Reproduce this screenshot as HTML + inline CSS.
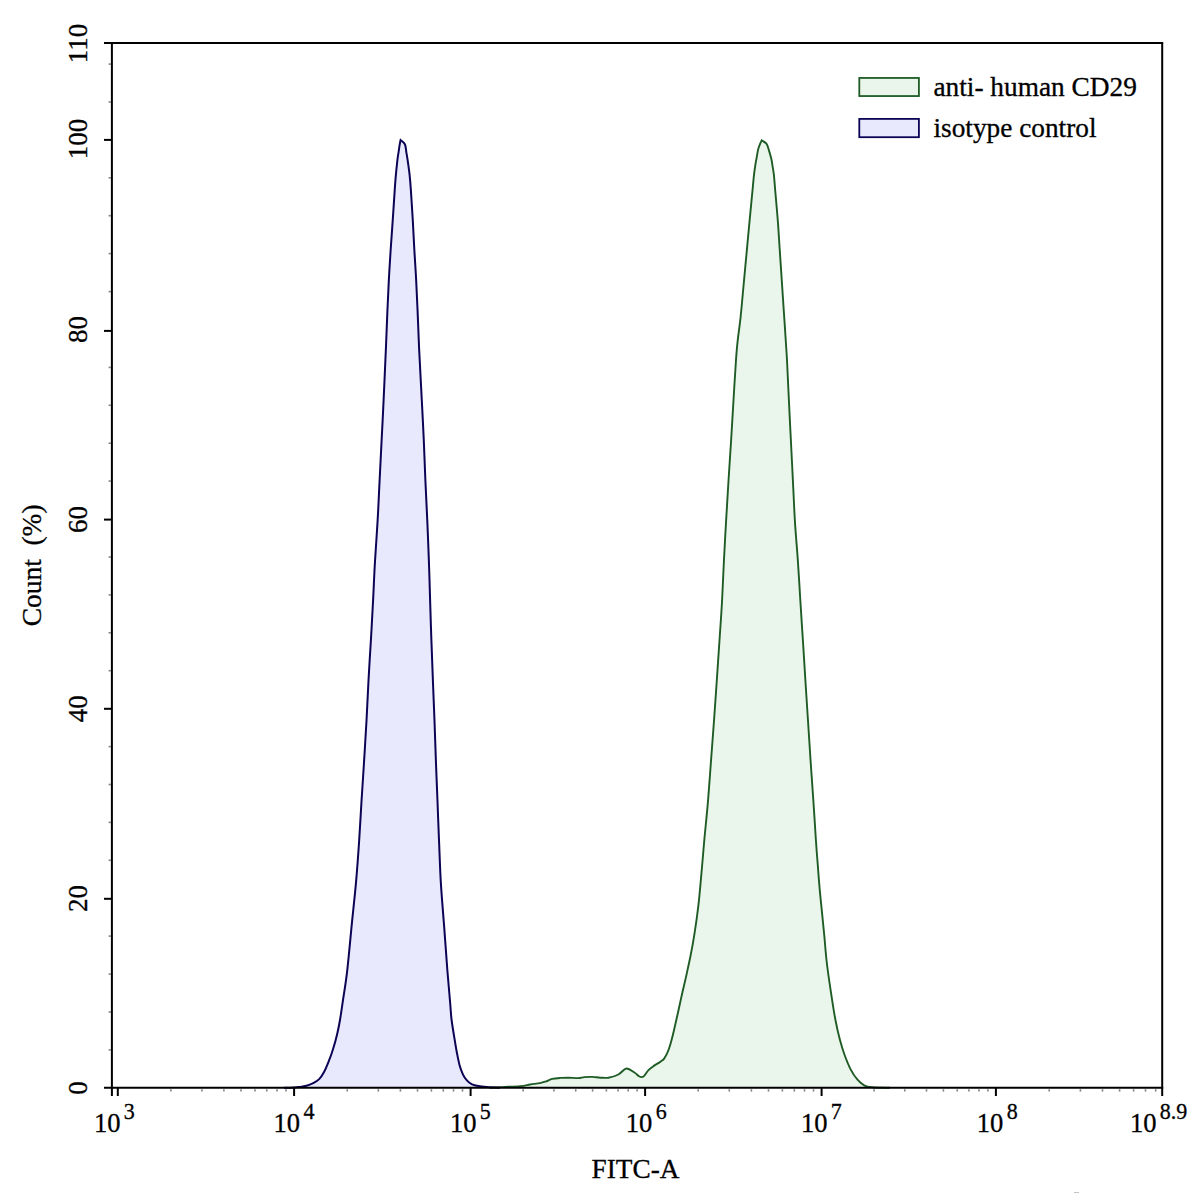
<!DOCTYPE html>
<html><head><meta charset="utf-8"><title>Flow cytometry histogram</title>
<style>html,body{margin:0;padding:0;background:#fff;}svg{display:block}</style></head>
<body>
<svg width="1197" height="1193" viewBox="0 0 1197 1193">
<rect width="1197" height="1193" fill="#fff"/>
<path d="M490.0 1087.8C492.0 1087.7 497.1 1087.4 502.1 1087.1C507.1 1086.8 515.5 1086.5 520.2 1086.1C524.9 1085.7 526.9 1085.0 530.2 1084.5C533.5 1084.0 537.5 1083.6 540.2 1083.1C542.9 1082.6 544.2 1082.0 546.2 1081.3C548.2 1080.6 549.9 1079.5 552.2 1078.9C554.6 1078.3 557.6 1078.1 560.3 1077.9C563.0 1077.7 565.3 1077.7 568.3 1077.7C571.3 1077.7 575.6 1078.2 578.3 1078.1C581.0 1078.0 582.0 1077.3 584.3 1077.1C586.6 1076.9 589.6 1076.8 592.3 1076.9C595.0 1077.0 597.7 1077.6 600.4 1077.7C603.1 1077.8 605.4 1078.2 608.4 1077.7C611.4 1077.2 615.4 1076.0 618.4 1074.5C621.4 1073.0 623.7 1068.8 626.4 1068.5C629.1 1068.2 632.2 1071.2 634.4 1072.5C636.6 1073.8 637.9 1075.8 639.4 1076.5C640.9 1077.2 642.0 1077.6 643.5 1076.5C645.0 1075.4 646.8 1071.8 648.5 1070.1C650.2 1068.4 651.5 1067.5 653.5 1066.1C655.5 1064.7 658.7 1063.0 660.5 1061.7C662.3 1060.4 663.2 1060.0 664.5 1058.1C665.8 1056.1 667.1 1053.7 668.5 1050.0C669.9 1046.3 671.2 1041.6 672.6 1036.0C674.0 1030.4 675.6 1023.0 677.1 1016.5C678.6 1010.0 679.9 1003.8 681.4 996.9C682.9 990.0 684.9 982.0 686.4 975.1C687.9 968.2 689.2 962.4 690.6 955.5C692.0 948.6 693.2 942.1 694.5 933.7C695.8 925.4 697.2 915.6 698.4 905.4C699.6 895.2 700.5 883.6 701.5 872.7C702.5 861.8 703.2 851.9 704.3 840.0C705.4 828.1 706.9 814.4 708.0 801.2C709.1 788.0 710.0 774.3 711.0 760.9C712.0 747.5 713.0 734.1 714.0 720.7C715.0 707.3 715.9 693.9 716.8 680.5C717.7 667.1 718.6 653.6 719.5 640.2C720.4 626.8 721.4 613.2 722.1 600.0C722.8 586.8 723.2 574.4 723.9 561.2C724.6 548.0 725.3 534.3 726.1 520.9C726.9 507.5 727.7 494.1 728.5 480.7C729.3 467.3 730.3 453.9 731.1 440.5C731.9 427.1 732.7 413.6 733.5 400.2C734.3 386.8 735.3 369.8 736.0 360.0C736.7 350.2 736.8 348.4 737.6 341.3C738.4 334.2 739.6 326.5 740.6 317.1C741.6 307.7 742.6 295.7 743.6 285.0C744.6 274.3 745.6 263.5 746.6 252.8C747.6 242.1 748.6 231.3 749.6 220.6C750.6 209.9 752.0 196.0 752.7 188.4C753.4 180.8 753.5 179.0 754.0 174.9C754.5 170.8 755.1 166.8 755.5 164.0C755.9 161.2 756.2 160.3 756.6 157.9C757.0 155.5 757.5 152.1 758.1 149.6C758.7 147.1 759.8 144.7 760.4 143.2C761.0 141.7 761.5 140.9 761.7 140.4C762.5 140.9 765.2 142.1 766.4 143.6C767.6 145.1 767.9 147.1 768.7 149.6C769.5 152.1 770.6 155.7 771.3 158.7C772.0 161.7 772.4 165.0 772.8 167.7C773.2 170.4 773.5 171.1 773.9 174.9C774.3 178.7 774.6 182.8 775.2 190.4C775.9 198.0 777.0 210.5 777.8 220.6C778.6 230.7 779.1 240.8 779.8 250.8C780.5 260.9 781.1 270.8 781.8 280.9C782.5 290.9 783.1 301.0 783.8 311.1C784.5 321.2 785.3 333.2 785.8 341.3C786.3 349.4 786.5 350.2 787.0 360.0C787.5 369.8 788.2 386.8 788.9 400.2C789.5 413.6 790.2 427.1 790.9 440.5C791.6 453.9 792.2 467.3 792.9 480.7C793.6 494.1 794.1 507.5 794.9 520.9C795.7 534.3 797.0 548.0 797.9 561.2C798.8 574.4 799.5 586.8 800.3 600.0C801.1 613.2 802.0 626.8 802.9 640.2C803.8 653.6 804.5 667.1 805.4 680.5C806.2 693.9 807.1 707.3 808.0 720.7C808.9 734.1 809.7 747.5 810.6 760.9C811.5 774.3 812.5 788.0 813.4 801.2C814.3 814.4 815.2 829.3 815.9 840.0C816.6 850.7 817.1 856.8 817.8 865.2C818.4 873.6 819.1 882.8 819.8 890.3C820.5 897.8 821.0 902.8 821.8 910.4C822.5 918.0 823.5 927.3 824.3 935.6C825.1 943.9 825.5 951.0 826.5 960.0C827.5 969.0 829.0 979.5 830.5 989.3C832.0 999.1 833.6 1010.3 835.2 1018.7C836.8 1027.1 838.3 1033.8 839.9 1039.8C841.5 1045.8 842.8 1050.1 844.6 1055.0C846.4 1059.9 848.4 1065.0 850.5 1069.1C852.6 1073.2 855.1 1077.0 857.5 1079.7C859.9 1082.5 862.1 1084.3 864.6 1085.6C867.1 1086.9 868.6 1086.9 872.8 1087.3C877.0 1087.7 887.1 1087.7 890.0 1087.8Z" fill="#eaf6eb" stroke="none"/>
<path d="M490.0 1087.8C492.0 1087.7 497.1 1087.4 502.1 1087.1C507.1 1086.8 515.5 1086.5 520.2 1086.1C524.9 1085.7 526.9 1085.0 530.2 1084.5C533.5 1084.0 537.5 1083.6 540.2 1083.1C542.9 1082.6 544.2 1082.0 546.2 1081.3C548.2 1080.6 549.9 1079.5 552.2 1078.9C554.6 1078.3 557.6 1078.1 560.3 1077.9C563.0 1077.7 565.3 1077.7 568.3 1077.7C571.3 1077.7 575.6 1078.2 578.3 1078.1C581.0 1078.0 582.0 1077.3 584.3 1077.1C586.6 1076.9 589.6 1076.8 592.3 1076.9C595.0 1077.0 597.7 1077.6 600.4 1077.7C603.1 1077.8 605.4 1078.2 608.4 1077.7C611.4 1077.2 615.4 1076.0 618.4 1074.5C621.4 1073.0 623.7 1068.8 626.4 1068.5C629.1 1068.2 632.2 1071.2 634.4 1072.5C636.6 1073.8 637.9 1075.8 639.4 1076.5C640.9 1077.2 642.0 1077.6 643.5 1076.5C645.0 1075.4 646.8 1071.8 648.5 1070.1C650.2 1068.4 651.5 1067.5 653.5 1066.1C655.5 1064.7 658.7 1063.0 660.5 1061.7C662.3 1060.4 663.2 1060.0 664.5 1058.1C665.8 1056.1 667.1 1053.7 668.5 1050.0C669.9 1046.3 671.2 1041.6 672.6 1036.0C674.0 1030.4 675.6 1023.0 677.1 1016.5C678.6 1010.0 679.9 1003.8 681.4 996.9C682.9 990.0 684.9 982.0 686.4 975.1C687.9 968.2 689.2 962.4 690.6 955.5C692.0 948.6 693.2 942.1 694.5 933.7C695.8 925.4 697.2 915.6 698.4 905.4C699.6 895.2 700.5 883.6 701.5 872.7C702.5 861.8 703.2 851.9 704.3 840.0C705.4 828.1 706.9 814.4 708.0 801.2C709.1 788.0 710.0 774.3 711.0 760.9C712.0 747.5 713.0 734.1 714.0 720.7C715.0 707.3 715.9 693.9 716.8 680.5C717.7 667.1 718.6 653.6 719.5 640.2C720.4 626.8 721.4 613.2 722.1 600.0C722.8 586.8 723.2 574.4 723.9 561.2C724.6 548.0 725.3 534.3 726.1 520.9C726.9 507.5 727.7 494.1 728.5 480.7C729.3 467.3 730.3 453.9 731.1 440.5C731.9 427.1 732.7 413.6 733.5 400.2C734.3 386.8 735.3 369.8 736.0 360.0C736.7 350.2 736.8 348.4 737.6 341.3C738.4 334.2 739.6 326.5 740.6 317.1C741.6 307.7 742.6 295.7 743.6 285.0C744.6 274.3 745.6 263.5 746.6 252.8C747.6 242.1 748.6 231.3 749.6 220.6C750.6 209.9 752.0 196.0 752.7 188.4C753.4 180.8 753.5 179.0 754.0 174.9C754.5 170.8 755.1 166.8 755.5 164.0C755.9 161.2 756.2 160.3 756.6 157.9C757.0 155.5 757.5 152.1 758.1 149.6C758.7 147.1 759.8 144.7 760.4 143.2C761.0 141.7 761.5 140.9 761.7 140.4C762.5 140.9 765.2 142.1 766.4 143.6C767.6 145.1 767.9 147.1 768.7 149.6C769.5 152.1 770.6 155.7 771.3 158.7C772.0 161.7 772.4 165.0 772.8 167.7C773.2 170.4 773.5 171.1 773.9 174.9C774.3 178.7 774.6 182.8 775.2 190.4C775.9 198.0 777.0 210.5 777.8 220.6C778.6 230.7 779.1 240.8 779.8 250.8C780.5 260.9 781.1 270.8 781.8 280.9C782.5 290.9 783.1 301.0 783.8 311.1C784.5 321.2 785.3 333.2 785.8 341.3C786.3 349.4 786.5 350.2 787.0 360.0C787.5 369.8 788.2 386.8 788.9 400.2C789.5 413.6 790.2 427.1 790.9 440.5C791.6 453.9 792.2 467.3 792.9 480.7C793.6 494.1 794.1 507.5 794.9 520.9C795.7 534.3 797.0 548.0 797.9 561.2C798.8 574.4 799.5 586.8 800.3 600.0C801.1 613.2 802.0 626.8 802.9 640.2C803.8 653.6 804.5 667.1 805.4 680.5C806.2 693.9 807.1 707.3 808.0 720.7C808.9 734.1 809.7 747.5 810.6 760.9C811.5 774.3 812.5 788.0 813.4 801.2C814.3 814.4 815.2 829.3 815.9 840.0C816.6 850.7 817.1 856.8 817.8 865.2C818.4 873.6 819.1 882.8 819.8 890.3C820.5 897.8 821.0 902.8 821.8 910.4C822.5 918.0 823.5 927.3 824.3 935.6C825.1 943.9 825.5 951.0 826.5 960.0C827.5 969.0 829.0 979.5 830.5 989.3C832.0 999.1 833.6 1010.3 835.2 1018.7C836.8 1027.1 838.3 1033.8 839.9 1039.8C841.5 1045.8 842.8 1050.1 844.6 1055.0C846.4 1059.9 848.4 1065.0 850.5 1069.1C852.6 1073.2 855.1 1077.0 857.5 1079.7C859.9 1082.5 862.1 1084.3 864.6 1085.6C867.1 1086.9 868.6 1086.9 872.8 1087.3C877.0 1087.7 887.1 1087.7 890.0 1087.8" fill="none" stroke="#1f5c25" stroke-width="1.9" stroke-linejoin="miter"/>
<path d="M284.0 1087.8C285.6 1087.8 291.3 1087.6 293.7 1087.5C296.1 1087.4 296.3 1087.4 298.4 1087.1C300.5 1086.8 304.0 1086.5 306.5 1085.8C309.0 1085.1 311.1 1084.2 313.2 1083.1C315.3 1082.0 317.4 1080.9 319.2 1079.1C321.0 1077.3 322.3 1075.2 323.9 1072.3C325.5 1069.4 327.0 1065.6 328.6 1061.6C330.2 1057.6 331.9 1052.9 333.3 1048.2C334.8 1043.5 336.2 1038.1 337.3 1033.4C338.4 1028.7 339.1 1025.3 340.0 1020.0C340.9 1014.6 341.6 1009.5 342.8 1001.3C344.0 993.1 345.8 983.1 347.2 970.8C348.6 958.4 350.1 941.7 351.5 927.2C352.9 912.7 354.6 898.1 355.9 883.6C357.2 869.1 358.3 853.7 359.2 840.0C360.1 826.3 360.7 814.4 361.5 801.2C362.3 788.0 363.3 774.3 364.1 760.9C364.9 747.5 365.8 734.1 366.5 720.7C367.2 707.3 367.8 693.9 368.5 680.5C369.2 667.1 370.1 653.6 370.9 640.2C371.7 626.8 372.4 613.2 373.1 600.0C373.8 586.8 374.2 574.4 375.0 561.2C375.8 548.0 376.8 534.3 377.6 520.9C378.4 507.5 378.9 494.1 379.6 480.7C380.3 467.3 380.9 453.9 381.6 440.5C382.3 427.1 383.0 413.6 383.6 400.2C384.2 386.8 385.0 369.8 385.4 360.0C385.8 350.2 385.9 349.4 386.2 341.3C386.5 333.2 387.0 321.2 387.4 311.1C387.8 301.0 388.3 290.9 388.8 280.9C389.3 270.8 390.0 260.9 390.6 250.8C391.2 240.8 392.0 230.7 392.7 220.6C393.4 210.5 394.2 198.0 394.7 190.4C395.2 182.8 395.4 179.9 395.9 174.9C396.3 169.9 397.0 163.9 397.4 160.2C397.8 156.5 398.1 155.1 398.5 152.6C398.9 150.1 399.2 147.2 399.6 145.1C400.0 143.0 400.4 140.9 400.6 140.1C401.3 140.8 403.9 142.1 404.9 144.2C405.9 146.3 405.9 149.6 406.4 152.6C406.9 155.6 407.4 158.3 407.9 162.0C408.4 165.7 409.1 170.2 409.6 174.9C410.1 179.6 410.4 182.8 410.9 190.4C411.4 198.0 412.2 210.5 412.8 220.6C413.4 230.7 413.8 240.8 414.4 250.8C415.0 260.9 415.7 270.8 416.2 280.9C416.7 290.9 417.2 301.0 417.6 311.1C418.0 321.2 418.5 333.2 418.8 341.3C419.1 349.4 419.2 350.2 419.7 360.0C420.2 369.8 421.1 386.8 421.8 400.2C422.5 413.6 423.2 427.1 423.8 440.5C424.4 453.9 424.8 467.3 425.4 480.7C426.0 494.1 426.7 507.5 427.3 520.9C427.9 534.3 428.4 548.0 428.9 561.2C429.4 574.4 429.7 586.8 430.1 600.0C430.5 613.2 430.9 626.8 431.4 640.2C431.9 653.6 432.4 667.1 432.9 680.5C433.4 693.9 434.0 707.3 434.5 720.7C435.0 734.1 435.4 747.5 435.9 760.9C436.4 774.3 437.0 788.0 437.5 801.2C438.0 814.4 438.4 826.3 439.0 840.0C439.6 853.7 440.0 869.1 440.9 883.6C441.8 898.1 443.1 912.7 444.2 927.2C445.3 941.7 446.4 958.1 447.4 970.8C448.4 983.5 449.5 995.3 450.2 1003.5C450.9 1011.7 450.9 1014.5 451.6 1020.0C452.3 1025.5 453.3 1031.4 454.2 1036.8C455.1 1042.2 455.9 1047.5 456.8 1052.2C457.7 1056.9 458.5 1061.2 459.5 1064.9C460.5 1068.6 461.7 1071.7 462.9 1074.3C464.1 1076.9 465.4 1078.8 466.9 1080.4C468.3 1082.0 469.7 1083.1 471.6 1084.1C473.5 1085.0 475.7 1085.6 478.3 1086.1C480.9 1086.6 483.4 1086.8 487.0 1087.1C490.6 1087.4 497.8 1087.7 500.0 1087.8Z" fill="#e9e9fd" stroke="none"/>
<path d="M284.0 1087.8C285.6 1087.8 291.3 1087.6 293.7 1087.5C296.1 1087.4 296.3 1087.4 298.4 1087.1C300.5 1086.8 304.0 1086.5 306.5 1085.8C309.0 1085.1 311.1 1084.2 313.2 1083.1C315.3 1082.0 317.4 1080.9 319.2 1079.1C321.0 1077.3 322.3 1075.2 323.9 1072.3C325.5 1069.4 327.0 1065.6 328.6 1061.6C330.2 1057.6 331.9 1052.9 333.3 1048.2C334.8 1043.5 336.2 1038.1 337.3 1033.4C338.4 1028.7 339.1 1025.3 340.0 1020.0C340.9 1014.6 341.6 1009.5 342.8 1001.3C344.0 993.1 345.8 983.1 347.2 970.8C348.6 958.4 350.1 941.7 351.5 927.2C352.9 912.7 354.6 898.1 355.9 883.6C357.2 869.1 358.3 853.7 359.2 840.0C360.1 826.3 360.7 814.4 361.5 801.2C362.3 788.0 363.3 774.3 364.1 760.9C364.9 747.5 365.8 734.1 366.5 720.7C367.2 707.3 367.8 693.9 368.5 680.5C369.2 667.1 370.1 653.6 370.9 640.2C371.7 626.8 372.4 613.2 373.1 600.0C373.8 586.8 374.2 574.4 375.0 561.2C375.8 548.0 376.8 534.3 377.6 520.9C378.4 507.5 378.9 494.1 379.6 480.7C380.3 467.3 380.9 453.9 381.6 440.5C382.3 427.1 383.0 413.6 383.6 400.2C384.2 386.8 385.0 369.8 385.4 360.0C385.8 350.2 385.9 349.4 386.2 341.3C386.5 333.2 387.0 321.2 387.4 311.1C387.8 301.0 388.3 290.9 388.8 280.9C389.3 270.8 390.0 260.9 390.6 250.8C391.2 240.8 392.0 230.7 392.7 220.6C393.4 210.5 394.2 198.0 394.7 190.4C395.2 182.8 395.4 179.9 395.9 174.9C396.3 169.9 397.0 163.9 397.4 160.2C397.8 156.5 398.1 155.1 398.5 152.6C398.9 150.1 399.2 147.2 399.6 145.1C400.0 143.0 400.4 140.9 400.6 140.1C401.3 140.8 403.9 142.1 404.9 144.2C405.9 146.3 405.9 149.6 406.4 152.6C406.9 155.6 407.4 158.3 407.9 162.0C408.4 165.7 409.1 170.2 409.6 174.9C410.1 179.6 410.4 182.8 410.9 190.4C411.4 198.0 412.2 210.5 412.8 220.6C413.4 230.7 413.8 240.8 414.4 250.8C415.0 260.9 415.7 270.8 416.2 280.9C416.7 290.9 417.2 301.0 417.6 311.1C418.0 321.2 418.5 333.2 418.8 341.3C419.1 349.4 419.2 350.2 419.7 360.0C420.2 369.8 421.1 386.8 421.8 400.2C422.5 413.6 423.2 427.1 423.8 440.5C424.4 453.9 424.8 467.3 425.4 480.7C426.0 494.1 426.7 507.5 427.3 520.9C427.9 534.3 428.4 548.0 428.9 561.2C429.4 574.4 429.7 586.8 430.1 600.0C430.5 613.2 430.9 626.8 431.4 640.2C431.9 653.6 432.4 667.1 432.9 680.5C433.4 693.9 434.0 707.3 434.5 720.7C435.0 734.1 435.4 747.5 435.9 760.9C436.4 774.3 437.0 788.0 437.5 801.2C438.0 814.4 438.4 826.3 439.0 840.0C439.6 853.7 440.0 869.1 440.9 883.6C441.8 898.1 443.1 912.7 444.2 927.2C445.3 941.7 446.4 958.1 447.4 970.8C448.4 983.5 449.5 995.3 450.2 1003.5C450.9 1011.7 450.9 1014.5 451.6 1020.0C452.3 1025.5 453.3 1031.4 454.2 1036.8C455.1 1042.2 455.9 1047.5 456.8 1052.2C457.7 1056.9 458.5 1061.2 459.5 1064.9C460.5 1068.6 461.7 1071.7 462.9 1074.3C464.1 1076.9 465.4 1078.8 466.9 1080.4C468.3 1082.0 469.7 1083.1 471.6 1084.1C473.5 1085.0 475.7 1085.6 478.3 1086.1C480.9 1086.6 483.4 1086.8 487.0 1087.1C490.6 1087.4 497.8 1087.7 500.0 1087.8" fill="none" stroke="#0b0354" stroke-width="2" stroke-linejoin="miter"/>
<g stroke="#000" stroke-width="2" fill="none" stroke-linecap="butt">
<path d="M104 43.1H1163.2"/>
<path d="M111.9 43.1V1096"/>
<path d="M1162.2 43.1V1096"/>
<path d="M104 1087.8H1163.2"/>
<path d="M104 898.8H111.9"/>
<path d="M104 708.8H111.9"/>
<path d="M104 519.6H111.9"/>
<path d="M104 330.9H111.9"/>
<path d="M104 139.9H111.9"/>
<path d="M117.8 1087.8V1096"/>
<path d="M294.1 1087.8V1096"/>
<path d="M470.6 1087.8V1096"/>
<path d="M645.1 1087.8V1096"/>
<path d="M821.6 1087.8V1096"/>
<path d="M995.9 1087.8V1096"/>
</g>
<g stroke="#858585" stroke-width="1.6">
<path d="M108.6 1049.9H111"/>
<path d="M108.6 1012.0H111"/>
<path d="M108.6 974.1H111"/>
<path d="M108.6 936.1H111"/>
<path d="M108.6 860.3H111"/>
<path d="M108.6 822.4H111"/>
<path d="M108.6 784.5H111"/>
<path d="M108.6 746.6H111"/>
<path d="M108.6 670.7H111"/>
<path d="M108.6 632.8H111"/>
<path d="M108.6 594.9H111"/>
<path d="M108.6 557.0H111"/>
<path d="M108.6 481.1H111"/>
<path d="M108.6 443.2H111"/>
<path d="M108.6 405.3H111"/>
<path d="M108.6 367.4H111"/>
<path d="M108.6 291.6H111"/>
<path d="M108.6 253.6H111"/>
<path d="M108.6 215.7H111"/>
<path d="M108.6 177.8H111"/>
<path d="M108.6 102.0H111"/>
<path d="M108.6 64.1H111"/>
<path d="M170.9 1089.2V1091.6"/>
<path d="M201.9 1089.2V1091.6"/>
<path d="M223.9 1089.2V1091.6"/>
<path d="M241.0 1089.2V1091.6"/>
<path d="M255.0 1089.2V1091.6"/>
<path d="M266.8 1089.2V1091.6"/>
<path d="M277.0 1089.2V1091.6"/>
<path d="M286.0 1089.2V1091.6"/>
<path d="M347.2 1089.2V1091.6"/>
<path d="M378.3 1089.2V1091.6"/>
<path d="M400.4 1089.2V1091.6"/>
<path d="M417.5 1089.2V1091.6"/>
<path d="M431.4 1089.2V1091.6"/>
<path d="M443.3 1089.2V1091.6"/>
<path d="M453.5 1089.2V1091.6"/>
<path d="M462.5 1089.2V1091.6"/>
<path d="M523.1 1089.2V1091.6"/>
<path d="M553.9 1089.2V1091.6"/>
<path d="M575.7 1089.2V1091.6"/>
<path d="M592.6 1089.2V1091.6"/>
<path d="M606.4 1089.2V1091.6"/>
<path d="M618.1 1089.2V1091.6"/>
<path d="M628.2 1089.2V1091.6"/>
<path d="M637.1 1089.2V1091.6"/>
<path d="M698.2 1089.2V1091.6"/>
<path d="M729.3 1089.2V1091.6"/>
<path d="M751.4 1089.2V1091.6"/>
<path d="M768.5 1089.2V1091.6"/>
<path d="M782.4 1089.2V1091.6"/>
<path d="M794.3 1089.2V1091.6"/>
<path d="M804.5 1089.2V1091.6"/>
<path d="M813.5 1089.2V1091.6"/>
<path d="M874.1 1089.2V1091.6"/>
<path d="M904.8 1089.2V1091.6"/>
<path d="M926.5 1089.2V1091.6"/>
<path d="M943.4 1089.2V1091.6"/>
<path d="M957.2 1089.2V1091.6"/>
<path d="M968.9 1089.2V1091.6"/>
<path d="M979.0 1089.2V1091.6"/>
<path d="M987.9 1089.2V1091.6"/>
<path d="M1049.2 1089.2V1091.6"/>
<path d="M1080.4 1089.2V1091.6"/>
<path d="M1102.5 1089.2V1091.6"/>
<path d="M1119.6 1089.2V1091.6"/>
<path d="M1133.6 1089.2V1091.6"/>
<path d="M1145.5 1089.2V1091.6"/>
<path d="M1155.7 1089.2V1091.6"/>
</g>
<g font-family="Liberation Serif, serif" fill="#000" stroke="#000" stroke-width="0.3">
<text transform="translate(87.3 1088.0) rotate(-90) scale(1 1.05)" font-size="27" text-anchor="middle">0</text>
<text transform="translate(87.3 898.6) rotate(-90) scale(1 1.05)" font-size="27" text-anchor="middle">20</text>
<text transform="translate(87.3 708.7) rotate(-90) scale(1 1.05)" font-size="27" text-anchor="middle">40</text>
<text transform="translate(87.3 519.5) rotate(-90) scale(1 1.05)" font-size="27" text-anchor="middle">60</text>
<text transform="translate(87.3 329.6) rotate(-90) scale(1 1.05)" font-size="27" text-anchor="middle">80</text>
<text transform="translate(87.3 138.9) rotate(-90) scale(1 1.05)" font-size="27" text-anchor="middle">100</text>
<text transform="translate(87.3 43.4) rotate(-90) scale(1 1.05)" font-size="27" text-anchor="middle">110</text>
<text transform="translate(93.96 1131.8) scale(1 1.05)" font-size="26.6">10<tspan dx="3.3" dy="-11.8" font-size="22">3</tspan></text>
<text transform="translate(273.56 1131.8) scale(1 1.05)" font-size="26.6">10<tspan dx="3.3" dy="-11.8" font-size="22">4</tspan></text>
<text transform="translate(449.96 1131.8) scale(1 1.05)" font-size="26.6">10<tspan dx="3.3" dy="-11.8" font-size="22">5</tspan></text>
<text transform="translate(625.76 1131.8) scale(1 1.05)" font-size="26.6">10<tspan dx="3.3" dy="-11.8" font-size="22">6</tspan></text>
<text transform="translate(800.96 1131.8) scale(1 1.05)" font-size="26.6">10<tspan dx="3.3" dy="-11.8" font-size="22">7</tspan></text>
<text transform="translate(976.76 1131.8) scale(1 1.05)" font-size="26.6">10<tspan dx="3.3" dy="-11.8" font-size="22">8</tspan></text>
<text transform="translate(1129.96 1131.8) scale(1 1.05)" font-size="26.6">10<tspan dx="3.3" dy="-11.8" font-size="22">8.9</tspan></text>
<text x="591.6" y="1177.7" font-size="27.3">FITC-A</text>
<text transform="translate(41.4 565.3) rotate(-90)" font-size="27.4" text-anchor="middle" xml:space="preserve" style="white-space:pre">Count  (%)</text>
<rect x="859.3" y="77.95" width="59.6" height="18.1" fill="#eaf6eb" stroke="#1f5c25" stroke-width="1.8"/>
<rect x="859.3" y="118.9" width="59.6" height="18.3" fill="#e9e9fd" stroke="#0b0354" stroke-width="1.8"/>
<text x="933.4" y="95.9" font-size="27.35">anti- human CD29</text>
<text x="933.5" y="136.5" font-size="27.3">isotype control</text>
</g>
<rect x="1074" y="1192" width="5" height="1" fill="#c4c4c4"/>
</svg>
</body></html>
